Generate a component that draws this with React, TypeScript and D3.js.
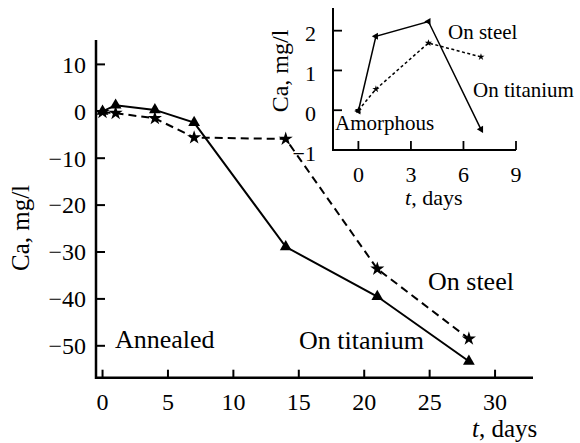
import * as d3 from "d3";
import React from "react";

// main chart: Ca concentration vs time, annealed samples
const mainDays = [0, 1, 4, 7, 14, 21, 28];
const mainTitanium = [0, 1.3, 0.3, -2.4, -28.9, -39.5, -53.3];
const mainSteel = [-0.2, -0.4, -1.5, -5.6, -5.9, -33.6, -48.5];
const mainXTicks = [0, 5, 10, 15, 20, 25, 30];
const mainYTicks = [10, 0, -10, -20, -30, -40, -50];

// inset: amorphous samples
const insetDays = [0, 1, 4, 7];
const insetTitanium = [-0.02, 1.86, 2.23, -0.48];
const insetSteel = [0, 0.53, 1.69, 1.34];
const insetXTicks = [0, 3, 6, 9];
const insetYTicks = [2, 1, 0, -1];

const FONT = "'Liberation Serif', 'Times New Roman', serif";
const fmt = (v: number) => (v < 0 ? "\u2212" + Math.abs(v) : String(v));

export default function App() {
  const width = 580;
  const height = 443;

  const x = d3.scaleLinear().domain([-0.5, 32.9]).range([96, 533]);
  const y = d3.scaleLinear().domain([-56.8, 15.2]).range([377.7, 40]);
  const ix = d3.scaleLinear().domain([-1.45, 9]).range([333, 516]);
  const iy = d3.scaleLinear().domain([-1, 2.57]).range([150, 8]);

  const mainLine = (vals: number[]) =>
    d3
      .line<number>()
      .x((_, i) => x(mainDays[i]))
      .y((d) => y(d))(vals) as string;
  const insetLine = (vals: number[]) =>
    d3
      .line<number>()
      .x((_, i) => ix(insetDays[i]))
      .y((d) => iy(d))(vals) as string;

  const tri = d3.symbol(d3.symbolTriangle, 60)() as string;
  const star = d3.symbol(d3.symbolStar, 62)() as string;
  const triSmall = d3.symbol(d3.symbolTriangle, 22)() as string;
  const starSmall = d3.symbol(d3.symbolStar, 16)() as string;

  const [x0, x1] = x.range();
  const [y0, y1] = y.range();
  const [ix0, ix1] = ix.range();
  const [iy0, iy1] = iy.range();

  return (
    <svg
      width={width}
      height={height}
      style={{ position: "absolute", left: 0, top: 0, background: "#fff" }}
      fontFamily={FONT}
    >
      {/* main axes */}
      <g stroke="#000" strokeWidth={2.5}>
        <line x1={x0} x2={x0} y1={y1} y2={y0 + 1.2} />
        <line x1={x0} x2={x1} y1={y0} y2={y0} />
        {mainYTicks.map((t) => (
          <line key={t} x1={x0} x2={x0 + 9} y1={y(t)} y2={y(t)} strokeWidth={2} />
        ))}
        {mainXTicks.map((t) => (
          <line key={t} x1={x(t)} x2={x(t)} y1={y0} y2={y0 - 8} strokeWidth={2} />
        ))}
      </g>
      <g fontSize={24} fill="#000">
        {mainYTicks.map((t) => (
          <text key={t} x={86} y={y(t)} dy="0.35em" textAnchor="end">
            {fmt(t)}
          </text>
        ))}
        {mainXTicks.map((t) => (
          <text key={t} x={x(t)} y={410} textAnchor="middle">
            {t}
          </text>
        ))}
      </g>
      <text
        transform="translate(29,228) rotate(-90)"
        textAnchor="middle"
        fontSize={25}
      >
        Ca, mg/l
      </text>
      <text x={472} y={437} fontSize={25}>
        <tspan fontStyle="italic">t</tspan>, days
      </text>

      {/* main series */}
      <path d={mainLine(mainTitanium)} fill="none" stroke="#000" strokeWidth={2} />
      <path
        d={mainLine(mainSteel)}
        fill="none"
        stroke="#000"
        strokeWidth={2}
        strokeDasharray="8,5"
      />
      {mainTitanium.map((v, i) => (
        <path key={"t" + i} d={tri} transform={`translate(${x(mainDays[i])},${y(v)})`} />
      ))}
      {mainSteel.map((v, i) => (
        <path key={"s" + i} d={star} transform={`translate(${x(mainDays[i])},${y(v)})`} />
      ))}

      <g fontSize={26}>
        <text x={115} y={348}>Annealed</text>
        <text x={299} y={349}>On titanium</text>
        <text x={428} y={290}>On steel</text>
      </g>

      {/* inset axes */}
      <g stroke="#000" strokeWidth={2}>
        <line x1={ix0} x2={ix0} y1={iy1} y2={iy0 + 1} />
        <line x1={ix0} x2={ix1} y1={iy0} y2={iy0} />
        {insetYTicks.map((t) => (
          <line key={t} x1={ix0} x2={ix0 + 9} y1={iy(t)} y2={iy(t)} strokeWidth={1.8} />
        ))}
        {insetXTicks.map((t) => (
          <line key={t} x1={ix(t)} x2={ix(t)} y1={iy0} y2={iy0 - 9} strokeWidth={1.8} />
        ))}
      </g>
      <g fontSize={22}>
        {insetYTicks.map((t) => (
          <text key={t} x={316} y={iy(t) + 3} dy="0.35em" textAnchor="end">
            {fmt(t)}
          </text>
        ))}
        {insetXTicks.map((t) => (
          <text key={t} x={ix(t)} y={182} textAnchor="middle">
            {t}
          </text>
        ))}
      </g>
      <text
        transform="translate(288,71) rotate(-90)"
        textAnchor="middle"
        fontSize={24}
      >
        Ca, mg/l
      </text>
      <text x={405} y={205} fontSize={22}>
        <tspan fontStyle="italic">t</tspan>, days
      </text>

      {/* inset series */}
      <path d={insetLine(insetTitanium)} fill="none" stroke="#000" strokeWidth={1.5} />
      <path
        d={insetLine(insetSteel)}
        fill="none"
        stroke="#000"
        strokeWidth={1.5}
        strokeDasharray="3,2.5"
      />
      {insetTitanium.map((v, i) => (
        <path
          key={"it" + i}
          d={triSmall}
          transform={`translate(${ix(insetDays[i])},${iy(v)}) rotate(-90)`}
        />
      ))}
      {insetSteel.map((v, i) => (
        <path key={"is" + i} d={starSmall} transform={`translate(${ix(insetDays[i])},${iy(v)})`} />
      ))}

      <g fontSize={21}>
        <text x={448} y={39}>On steel</text>
        <text x={473} y={97}>On titanium</text>
        <text x={335} y={130}>Amorphous</text>
      </g>
    </svg>
  );
}
